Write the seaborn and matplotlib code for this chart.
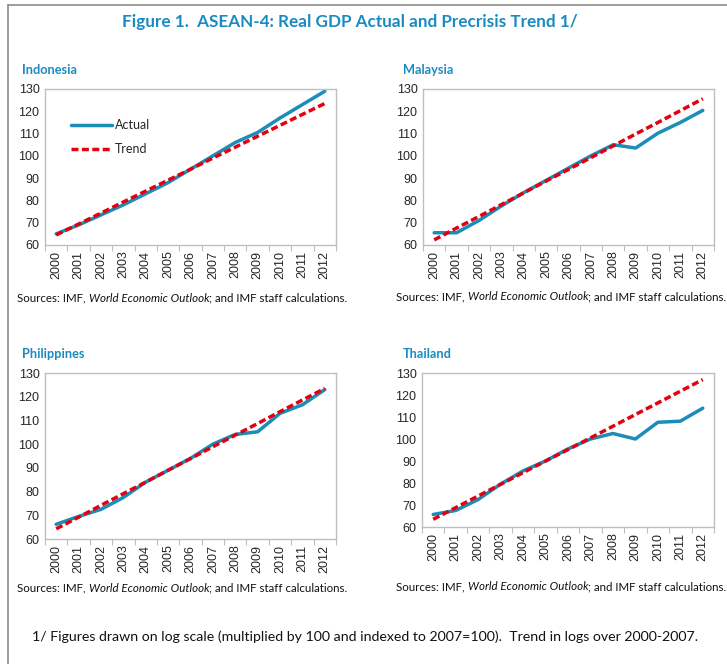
import numpy as np
import pandas as pd
import matplotlib
matplotlib.use("Agg")
import matplotlib.pyplot as plt
import seaborn as sns
from matplotlib.lines import Line2D

# Data (log scale x100, indexed to 2007=100)
years = list(range(2000, 2013))

indonesia_actual = [65.0, 69.0, 73.5, 78.0, 83.0, 88.0, 94.0, 100.0, 106.0, 110.5, 117.0, 123.0, 129.0]
indonesia_trend = [64.5, 69.4, 74.3, 79.3, 84.2, 89.1, 94.0, 99.0, 103.9, 108.8, 113.7, 118.6, 123.5]

malaysia_actual = [65.5, 65.5, 71.0, 77.5, 83.5, 89.0, 94.5, 100.0, 105.0, 103.5, 110.2, 115.0, 120.4]
malaysia_trend = [62.3, 67.6, 72.8, 78.1, 83.4, 88.7, 93.9, 99.2, 104.5, 109.8, 115.0, 120.3, 125.6]

philippines_actual = [66.2, 69.5, 72.5, 77.5, 84.0, 89.0, 94.0, 100.0, 104.1, 105.2, 113.0, 116.6, 123.0]
philippines_trend = [64.3, 69.2, 74.2, 79.1, 84.0, 89.0, 93.9, 98.9, 103.8, 108.7, 113.7, 118.6, 123.5]

thailand_actual = [65.7, 67.5, 72.5, 79.5, 85.5, 90.0, 95.5, 100.0, 102.5, 100.0, 107.6, 108.1, 114.0]
thailand_trend = [63.5, 68.8, 74.1, 79.4, 84.7, 90.0, 95.2, 100.5, 105.8, 111.1, 116.4, 121.7, 127.0]

title_text = "Figure 1.  ASEAN-4: Real GDP Actual and Precrisis Trend 1/"
footnote = ("1/ Figures drawn on log scale (multiplied by 100 and indexed to 2007=100).  "
            "Trend in logs over 2000-2007.")

BLUE = "#1B8DB8"
RED = "#E3000F"
TITLE_BLUE = "#1A8BC0"
TEXT_FONT = ["Lato", "DejaVu Sans"]
TICK_FONT = ["Liberation Sans", "DejaVu Sans"]
SRC_SIZE = 8.3

sns.set_theme(style="white")
plt.rcParams["font.family"] = TICK_FONT

W, H = 727, 664
fig = plt.figure(figsize=(W / 100, H / 100), dpi=100)


def px_box(x0, y0, x1, y1):
    return [x0 / W, 1 - y1 / H, (x1 - x0) / W, (y1 - y0) / H]


panels = [
    ("Indonesia", indonesia_actual, indonesia_trend, px_box(45, 89, 336, 245), (22, 70), (17, 298), True),
    ("Malaysia", malaysia_actual, malaysia_trend, px_box(423, 89, 714, 245), (403, 70), (396, 297), False),
    ("Philippines", philippines_actual, philippines_trend, px_box(45, 373, 336, 539), (22, 354), (17, 588), False),
    ("Thailand", thailand_actual, thailand_trend, px_box(422, 373, 714, 527), (403, 354), (396, 587), False),
]

for name, actual, trend, box, tpos, spos, show_legend in panels:
    ax = fig.add_axes(box)
    df = pd.DataFrame({"year": years, "Actual": actual, "Trend": trend})
    sns.lineplot(data=df, x="year", y="Actual", ax=ax, color=BLUE, lw=2.5, label="Actual")
    sns.lineplot(data=df, x="year", y="Trend", ax=ax, color=RED, lw=2.5, label="Trend",
                 linestyle=(0, (2.0, 1.0)))
    ax.set_xlim(1999.5, 2012.5)
    ax.set_ylim(60, 130)
    ax.set_yticks(range(60, 131, 10))
    ax.set_xticks(years)
    # Excel-style category ticks sit between the labels
    ax.set_xticks(np.arange(1999.5, 2013, 1), minor=True)
    ax.set_xticklabels([str(y) for y in years], rotation=90, fontsize=9)
    ax.tick_params(axis="y", labelsize=9, length=0, pad=4)
    ax.tick_params(axis="x", which="major", length=0, pad=4)
    ax.tick_params(axis="x", which="minor", length=4, width=0.8, color="#BFBFBF", bottom=True)
    ax.set_xlabel("")
    ax.set_ylabel("")
    for s in ax.spines.values():
        s.set_color("#BFBFBF")
        s.set_linewidth(1.0)
    if show_legend:
        ax.legend(loc="upper left", bbox_to_anchor=(0.05, 0.88), frameon=False,
                  handlelength=3.3, labelspacing=1.0, handletextpad=0.2,
                  prop={"family": TEXT_FONT, "size": 9})
    else:
        ax.get_legend().remove()

    fig.text(tpos[0] / W, 1 - tpos[1] / H, name, color=TITLE_BLUE, fontsize=9.2,
             fontweight="bold", family=TEXT_FONT, va="center", ha="left")

    # sources line, with the publication name in italics
    t1 = fig.text(spos[0] / W, 1 - spos[1] / H, "Sources: IMF, ", fontsize=SRC_SIZE,
                  family=TEXT_FONT, va="center", ha="left", color="#111111")
    t2 = ax.annotate("World Economic Outlook", xy=(1, 0), xycoords=t1, va="bottom", ha="left",
                     fontsize=SRC_SIZE, family=TEXT_FONT, style="italic", color="#111111",
                     annotation_clip=False)
    ax.annotate("; and IMF staff calculations.", xy=(1, 0), xycoords=t2, va="bottom",
                ha="left", fontsize=SRC_SIZE, family=TEXT_FONT, color="#111111",
                annotation_clip=False)

fig.text(350 / W, 1 - 22 / H, title_text, color=TITLE_BLUE, fontsize=12.3,
         fontweight="bold", family=TEXT_FONT, ha="center", va="center")
fig.text(32 / W, 1 - 637 / H, footnote, fontsize=10.2, family=TEXT_FONT,
         ha="left", va="center", color="#111111")

# frame lines of the box around the figure
fig.add_artist(Line2D([8 / W, 1], [1 - 5 / H, 1 - 5 / H], color="#8C8C8C", lw=1.2,
                      transform=fig.transFigure))
fig.add_artist(Line2D([8 / W, 8 / W], [0, 1 - 5 / H], color="#8C8C8C", lw=1.2,
                      transform=fig.transFigure))

fig.savefig("out.png", dpi=100)
